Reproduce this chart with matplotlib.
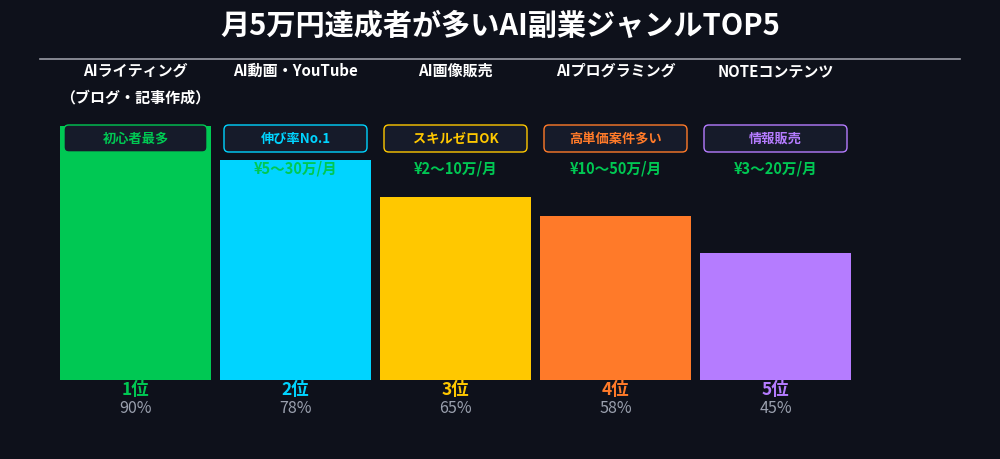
import matplotlib
matplotlib.use("Agg")
import matplotlib.pyplot as plt
from matplotlib.patches import FancyBboxPatch

plt.rcParams['font.family'] = ['Noto Sans CJK JP', 'DejaVu Sans']

# data
genres = ['AIライティング\n（ブログ・記事作成）', 'AI動画・YouTube', 'AI画像販売', 'AIプログラミング', 'NOTEコンテンツ']
rates = [90, 78, 65, 58, 45]
badges = ['初心者最多', '伸び率No.1', 'スキルゼロOK', '高単価案件多い', '情報販売']
incomes = ['¥5〜50万/月', '¥5〜30万/月', '¥2〜10万/月', '¥10〜50万/月', '¥3〜20万/月']
ranks = ['1位', '2位', '3位', '4位', '5位']
colors = ['#00c853', '#00d4ff', '#ffc800', '#ff7a29', '#b57cff']

bg = '#0e111b'
fig = plt.figure(figsize=(10, 4.6), dpi=100, facecolor=bg)
ax = fig.add_axes([0, 0, 1, 1])
ax.set_facecolor(bg)
ax.axis('off')

# pixel layout: bar pitch 160px, 0% at y=381px, 90% at y=127px
ppu = 254 / 90
ax.set_xlim(-135.5 / 160, (1000 - 135.5) / 160)
ax.set_ylim(-79 / ppu, 381 / ppu)

def py(p):
    # pixel row from top -> data y
    return (381 - p) / ppu

x = range(len(rates))
ax.bar(x, rates, width=151 / 160, color=colors, zorder=1)

fig.text(0.5, 1 - 26 / 460, '月5万円達成者が多いAI副業ジャンルTOP5', ha='center', va='center',
         color='white', fontsize=21, fontweight='bold')
ax.plot([(40 - 135.5) / 160, (960 - 135.5) / 160], [py(60), py(60)], color='#9a9ca6', lw=1.2)

for i in x:
    lines = genres[i].split('\n')
    for k, ln in enumerate(lines):
        ax.text(i, py(71 + 26 * k), ln, ha='center', va='center', color='white',
                fontsize=10.8, fontweight='bold')
    ax.text(i, py(168), incomes[i], ha='center', va='center', color=colors[0],
            fontsize=10.5, fontweight='bold', zorder=2)
    w = 143 / 160
    h = 27 / ppu
    box = FancyBboxPatch((i - w / 2, py(153)), w, h,
                         boxstyle='round,pad=0,rounding_size=0.03',
                         mutation_aspect=160 / ppu,
                         fc='#161b2a', ec=colors[i], lw=1, zorder=3)
    ax.add_patch(box)
    ax.text(i, py(139), badges[i], ha='center', va='center', color=colors[i],
            fontsize=9.5, fontweight='bold', zorder=4)
    ax.text(i, py(390), ranks[i], ha='center', va='center', color=colors[i],
            fontsize=12.5, fontweight='bold')
    ax.text(i, py(409), f'{rates[i]}%', ha='center', va='center', color='#9aa0ae',
            fontsize=11.5)

fig.savefig('out.png', dpi=100, facecolor=bg)
